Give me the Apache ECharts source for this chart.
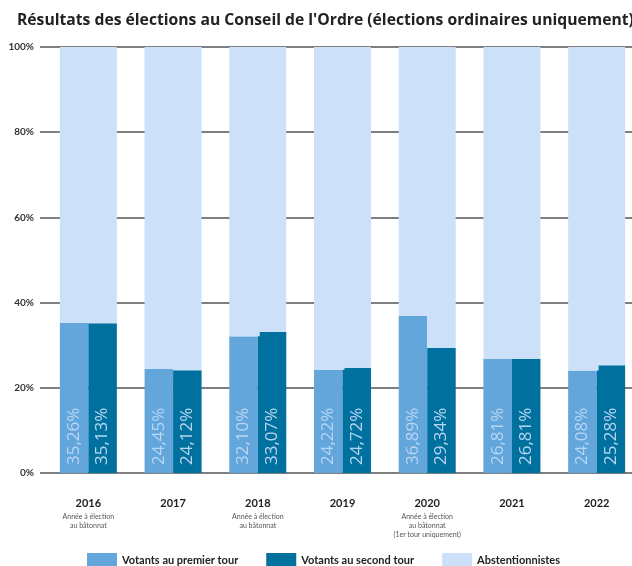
<!DOCTYPE html>
<html>
<head>
<meta charset="utf-8">
<script src="https://cdn.jsdelivr.net/npm/echarts@6/dist/echarts.min.js"></script>
<style>
  html, body { margin: 0; padding: 0; background: #fff; }
  #main { width: 632px; height: 566px; }
</style>
</head>
<body>
<div id="main"></div>
<script>
(function() {
    var chartDom = document.getElementById('main');
    var myChart = echarts.init(chartDom);
    var option;

    const years = ['2016', '2017', '2018', '2019', '2020', '2021', '2022'];
    const notes = [
        'Année à élection\nau bâtonnat',
        '',
        'Année à élection\nau bâtonnat',
        '',
        'Année à élection\nau bâtonnat\n(1er tour uniquement)',
        '',
        ''
    ];
    const premierTour = [35.26, 24.45, 32.10, 24.22, 36.89, 26.81, 24.08];
    const secondTour = [35.13, 24.12, 33.07, 24.72, 29.34, 26.81, 25.28];
    // abstention = reste de la colonne jusqu'à 100 %
    const abstPremier = [64.74, 75.55, 67.90, 75.78, 63.11, 73.19, 75.92];
    const abstSecond = [64.87, 75.88, 66.93, 75.28, 70.66, 73.19, 74.72];

    const colPremier = '#62a6dc';
    const colSecond = '#00709f';
    const colAbst = '#cce1f9';
    const gridColor = '#555555';

    const valueLabel = {
        show: true,
        position: 'insideBottom',
        rotate: 90,
        align: 'left',
        verticalAlign: 'middle',
        distance: 8,
        color: '#b8d6f1',
        fontFamily: 'Open Sans',
        fontSize: 17,
        formatter: function(p) {
            return p.value.toFixed(2).replace('.', ',') + '%';
        }
    };

    option = {
        animation: false,
        title: {
            text: "Résultats des élections au Conseil de l'Ordre (élections ordinaires uniquement)",
            left: 12,
            top: 8,
            textStyle: {
                fontFamily: 'Open Sans',
                fontWeight: 'bold',
                fontSize: 15.7,
                color: '#222'
            }
        },
        legend: {
            data: ['Votants au premier tour', 'Votants au second tour', 'Abstentionnistes'],
            left: 82,
            top: 548,
            itemWidth: 30,
            itemHeight: 15,
            itemGap: 28,
            icon: 'rect',
            textStyle: {
                fontFamily: 'Lato',
                fontWeight: 'bold',
                fontSize: 11,
                color: '#222'
            }
        },
        grid: {
            left: 46,
            width: 593,
            top: 47,
            bottom: 93,
            outerBoundsMode: 'none'
        },
        xAxis: {
            type: 'category',
            data: years,
            axisLine: { show: false },
            axisTick: { show: false },
            axisLabel: {
                margin: 22,
                interval: 0,
                formatter: function(value, idx) {
                    var s = '{y|' + value + '}';
                    if (notes[idx]) {
                        s += '\n' + notes[idx].split('\n').map(function(t) {
                            return '{n|' + t + '}';
                        }).join('\n');
                    }
                    return s;
                },
                rich: {
                    y: {
                        fontFamily: 'Lato',
                        fontWeight: 'bold',
                        fontSize: 11,
                        color: '#222',
                        lineHeight: 17
                    },
                    n: {
                        fontFamily: 'Lato',
                        fontSize: 7,
                        color: '#555',
                        lineHeight: 9
                    }
                },
                verticalAlign: 'top'
            }
        },
        yAxis: {
            type: 'value',
            min: 0,
            max: 100,
            interval: 20,
            axisLine: { show: false },
            axisTick: {
                show: true,
                length: 6,
                lineStyle: { color: gridColor, width: 1.5 }
            },
            axisLabel: {
                margin: 12,
                fontFamily: 'Lato',
                fontWeight: 'bold',
                fontSize: 10,
                color: '#333',
                formatter: '{value}%'
            },
            splitLine: {
                lineStyle: { color: gridColor, width: 1.5 }
            }
        },
        series: [
            {
                name: 'Votants au premier tour',
                type: 'bar',
                stack: 'premier',
                barWidth: 28.5,
                barGap: '0%',
                itemStyle: { color: colPremier },
                label: valueLabel,
                data: premierTour
            },
            {
                name: 'Votants au second tour',
                type: 'bar',
                stack: 'second',
                barWidth: 28.5,
                barGap: '0%',
                itemStyle: { color: colSecond },
                label: valueLabel,
                data: secondTour
            },
            {
                name: 'Abstentionnistes',
                type: 'bar',
                stack: 'premier',
                barWidth: 28.5,
                // petite ombre pour boucher la jointure entre les deux colonnes
                itemStyle: { color: colAbst, shadowColor: colAbst, shadowBlur: 0, shadowOffsetX: 2 },
                data: abstPremier
            },
            {
                name: 'Abstentionnistes',
                type: 'bar',
                stack: 'second',
                barWidth: 28.5,
                itemStyle: { color: colAbst },
                data: abstSecond
            }
        ]
    };

    myChart.setOption(option);
})();
</script>
</body>
</html>
